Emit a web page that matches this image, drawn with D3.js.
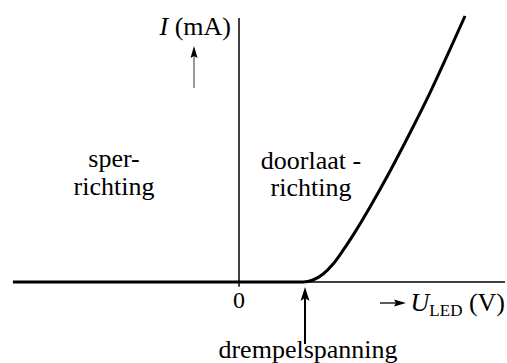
<!doctype html>
<html>
  <head>
    <meta charset="utf-8">
    <title>LED karakteristiek</title>
    <script src="https://d3js.org/d3.v7.min.js"></script>
    <style type="text/css">
      body { margin: 0; background-color: #ffffff }
    </style>
  </head>
  <body>
    <script>
      // curve (U in V, I in mA, arbitrary scale)
      var uValues = [-6.85, 1.94, 2.24, 2.55, 2.85, 3.15, 3.52, 3.97, 4.58, 5.18, 5.79, 6.39, 6.85];
      var iValues = [0, 0, 0.15, 0.60, 1.35, 2.37, 3.77, 5.64, 8.35, 11.20, 14.24, 17.47, 20];
      var xTicks = [0];
      var xTickLabels = ["0"];
      var threshold = 1.94;

      var w = 507;
      var h = 363;

      var x = d3.scaleLinear().domain([-7, 8]).range([8, 503]);
      var y = d3.scaleLinear().domain([0, 20]).range([282, 16]);

      var svg = d3.select("body")
        .append("svg")
        .attr("width", w)
        .attr("height", h)
        .style("font-family", "'Liberation Serif', 'Times New Roman', serif")
        .style("font-size", "26px");

      // axes
      svg.append("line")
        .attr("x1", x(-6.85)).attr("x2", x(8.06))
        .attr("y1", y(0)).attr("y2", y(0))
        .style("stroke", "#000").style("stroke-width", 1.5);

      svg.append("line")
        .attr("x1", x(0)).attr("x2", x(0))
        .attr("y1", y(-0.35)).attr("y2", y(19.85))
        .style("stroke", "#000").style("stroke-width", 1.5);

      svg.selectAll(".tick")
        .data(xTicks)
        .enter()
        .append("text")
        .attr("class", "tick")
        .attr("x", function(d) { return x(d); })
        .attr("y", 308)
        .attr("text-anchor", "middle")
        .style("font-size", "24px")
        .text(function(d, i) { return xTickLabels[i]; });

      // characteristic
      var pts = uValues.map(function(u, i) { return [u, iValues[i]]; });
      var line = d3.line()
        .x(function(d) { return x(d[0]); })
        .y(function(d) { return y(d[1]); })
        .curve(d3.curveMonotoneX);

      svg.append("path")
        .attr("d", line(pts))
        .style("fill", "none")
        .style("stroke", "#000")
        .style("stroke-width", 3)
        .style("stroke-linejoin", "round");

      // y label + arrow
      var yl = svg.append("text").attr("x", 231).attr("y", 35).attr("text-anchor", "end");
      yl.append("tspan").style("font-style", "italic").text("I");
      yl.append("tspan").text(" (mA)");

      svg.append("line")
        .attr("x1", 194).attr("x2", 194).attr("y1", 88).attr("y2", 54)
        .style("stroke", "#555").style("stroke-width", 1.2);
      svg.append("path")
        .attr("d", "M194,46L197.5,58L194,56L190.5,58Z")
        .style("fill", "#000");

      // x label + arrow
      svg.append("line")
        .attr("x1", 380).attr("x2", 398).attr("y1", 303).attr("y2", 303)
        .style("stroke", "#000").style("stroke-width", 1.3);
      svg.append("path")
        .attr("d", "M406,303L394,299.5L396,303L394,306.5Z")
        .style("fill", "#000");

      var xl = svg.append("text").attr("x", 505).attr("y", 311).attr("text-anchor", "end");
      xl.append("tspan").style("font-style", "italic").text("U");
      xl.append("tspan").attr("dy", 5).style("font-size", "17px").text("LED");
      xl.append("tspan").attr("dy", -5).text(" (V)");

      // threshold arrow
      var tx = x(threshold) + 2;
      svg.append("line")
        .attr("x1", tx).attr("x2", tx).attr("y1", 298).attr("y2", 344)
        .style("stroke", "#000").style("stroke-width", 2);
      svg.append("path")
        .attr("d", "M" + tx + ",287L" + (tx + 4.5) + ",301L" + tx + ",298L" + (tx - 4.5) + ",301Z")
        .style("fill", "#000");

      svg.append("text")
        .attr("x", 308).attr("y", 358)
        .attr("text-anchor", "middle")
        .text("drempelspanning");

      // region labels
      svg.append("text").attr("x", 114).attr("y", 167).attr("text-anchor", "middle").text("sper-");
      svg.append("text").attr("x", 114).attr("y", 195).attr("text-anchor", "middle").text("richting");
      svg.append("text").attr("x", 311).attr("y", 169).attr("text-anchor", "middle").text("doorlaat -");
      svg.append("text").attr("x", 311).attr("y", 196).attr("text-anchor", "middle").text("richting");
    </script>
  </body>
</html>
